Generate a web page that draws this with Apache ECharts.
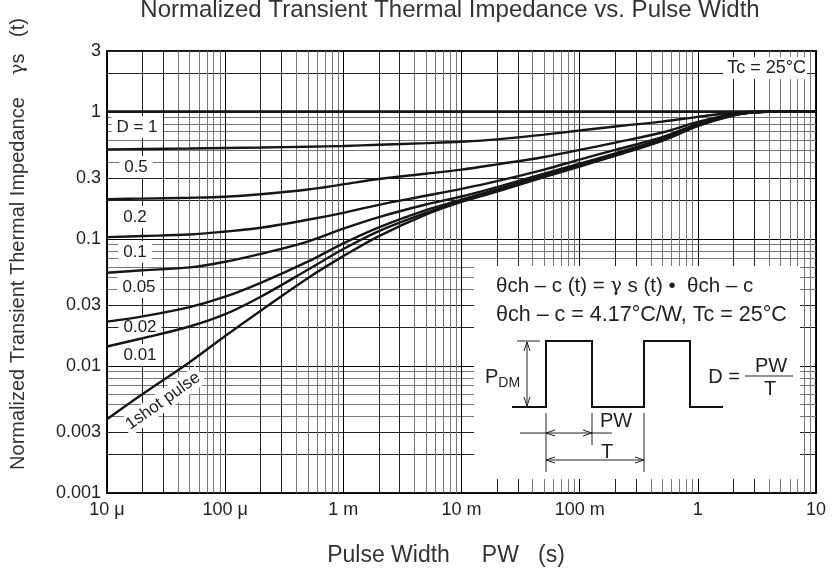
<!DOCTYPE html>
<html><head><meta charset="utf-8">
<script src="https://cdn.jsdelivr.net/npm/echarts@6/dist/echarts.min.js"></script>
<style>html,body{margin:0;padding:0;background:#fff}#c{width:834px;height:580px}</style>
</head><body><div id="c"></div>
<script>
// ---- data ----
const pulseWidth = [1e-5,2e-5,5e-5,1e-4,2e-4,5e-4,1e-3,2e-3,5e-3,1e-2,2e-2,5e-2,0.1,0.2,0.5,1,2,3,5,10];
const gammaD1    = [1,1,1,1,1,1,1,1,1,1,1,1,1,1,1,1,1,1,1,1];
const gammaD05   = [0.505,0.508,0.513,0.518,0.522,0.53,0.537,0.549,0.565,0.58,0.605,0.66,0.71,0.765,0.835,0.91,0.98,1,1,1];
const gammaD02   = [0.205,0.207,0.21,0.214,0.224,0.244,0.268,0.295,0.325,0.35,0.385,0.44,0.50,0.57,0.685,0.83,0.96,1,1,1];
const gammaD01   = [0.103,0.105,0.108,0.114,0.122,0.141,0.16,0.185,0.218,0.247,0.284,0.35,0.42,0.50,0.63,0.8,0.95,0.99,1,1];
const gammaD005  = [0.054,0.0565,0.0595,0.066,0.076,0.095,0.12,0.148,0.186,0.215,0.255,0.325,0.39,0.47,0.61,0.79,0.94,0.99,1,1];
const gammaD002  = [0.0223,0.0245,0.029,0.035,0.045,0.066,0.092,0.123,0.168,0.203,0.245,0.315,0.38,0.46,0.6,0.78,0.94,0.99,1,1];
const gammaD001  = [0.0142,0.0165,0.0204,0.0255,0.035,0.057,0.083,0.115,0.16,0.199,0.24,0.31,0.375,0.455,0.6,0.78,0.94,0.99,1,1];
const gammaSingle= [0.0038,0.006,0.0107,0.0172,0.0272,0.049,0.073,0.105,0.155,0.195,0.235,0.305,0.37,0.45,0.59,0.77,0.93,0.99,1,1];
const seriesNames = ['D = 1','0.5','0.2','0.1','0.05','0.02','0.01','1shot pulse'];

const xTickValues = [1e-5,1e-4,1e-3,1e-2,1e-1,1,10];
const xTickLabels = ['10 \u03bc','100 \u03bc','1 m','10 m','100 m','1','10'];
const yTickValues = [0.001,0.003,0.01,0.03,0.1,0.3,1,3];
const yTickLabels = ['0.001','0.003','0.01','0.03','0.1','0.3','1','3'];
const xDecades = [1e-5,1e-4,1e-3,1e-2,1e-1,1];
const yDecades = [0.001,0.01,0.1,1];
const gridMultipliers = [1,2,3,4,5,6,7,8,9];

// ---- helpers ----
function gridValues(decades, maxV){
  const out=[];
  decades.forEach(d=>gridMultipliers.forEach(m=>{const v=+(d*m).toPrecision(6); if(v<=maxV*1.0001) out.push(v);}));
  if(out[out.length-1] < maxV) out.push(maxV);
  return out;
}
function lookup(vals, labels){
  return function(v){
    for(let i=0;i<vals.length;i++){ if(Math.abs(Math.log10(v)-Math.log10(vals[i]))<1e-6) return labels[i]; }
    return '';
  };
}
const xGrid = gridValues(xDecades, 10);
const yGrid = gridValues(yDecades, 3);
const gridColors = ['#000','#222','#222','#777','#777','#777','#777','#777','#777'];
const FONT = 'Liberation Sans, Arial, sans-serif';
const GFONT = 'DejaVu Serif, serif';
const curveData = [gammaD1,gammaD05,gammaD02,gammaD01,gammaD005,gammaD002,gammaD001,gammaSingle];

const chart = echarts.init(document.getElementById('c'), null, {renderer:'canvas'});
const series = curveData.map((arr,i)=>({
  name: seriesNames[i], type:'line', showSymbol:false, smooth:0.35,
  data: pulseWidth.map((x,j)=>[x,arr[j]]),
  lineStyle:{color:'#161616', width: i===0 ? 2.8 : 2.4}, z:3, silent:true, animation:false
}));

function arrowH(x,y,dir){ return {type:'polyline', z:10, shape:{points:[[x+dir*9,y-3],[x,y],[x+dir*9,y+3]]}, style:{stroke:'#222',fill:null,lineWidth:1}}; }
function arrowV(x,y,dir){ return {type:'polyline', z:10, shape:{points:[[x-3,y+dir*9],[x,y],[x+3,y+dir*9]]}, style:{stroke:'#222',fill:null,lineWidth:1}}; }
function seg(x1,y1,x2,y2,w){ return {type:'line', z:10, shape:{x1,y1,x2,y2}, style:{stroke:'#222',lineWidth:w||1}}; }
function txt(t,x,y,size,opt){ return {type:'text', z:10, x, y, style:Object.assign({text:t, fill:'#222', font:size+'px '+FONT, align:'center', verticalAlign:'middle'}, opt||{})}; }
function lbl(t,x,y){ return {type:'text', z:2, x, y, style:{text:t, fill:'#222', font:'17px '+FONT, align:'center', verticalAlign:'middle', backgroundColor:'#fff', padding:[3,5,2,5]}}; }

const graphics = [
  // title & axis names
  txt('Normalized Transient Thermal Impedance vs. Pulse Width', 450, 10, 24, {fill:'#333'}),
  txt('Pulse Width     PW   (s)', 446, 556, 23, {fill:'#333'}),
  {type:'text', z:10, x:18, y:244, rotation:Math.PI/2, style:{
    text:'{a|Normalized Transient Thermal Impedance    }{g|\u03b3}{a|s   (t)}', fill:'#333', font:'20px '+FONT, align:'center', verticalAlign:'middle',
    rich:{a:{font:'20px '+FONT, fill:'#333'}, g:{font:'19px '+GFONT, fill:'#333'}}}},
  // Tc label
  {type:'text', z:12, x:807, y:68, style:{text:'Tc = 25\u00b0C', fill:'#222', font:'18px '+FONT, align:'right', verticalAlign:'middle', backgroundColor:'#fff', padding:[2,1,2,4]}},
  // curve labels
  lbl('D = 1',137,127), lbl('0.5',136,167), lbl('0.2',135,217), lbl('0.1',135,252),
  lbl('0.05',139,287), lbl('0.02',140,327), lbl('0.01',140,355),
  {type:'text', z:2, x:163, y:401, rotation:0.62, style:{text:'1shot pulse', fill:'#222', font:'17px '+FONT, align:'center', verticalAlign:'middle', backgroundColor:'#fff', padding:[2,3,1,3]}},
  // inset box
  {type:'rect', z:1, shape:{x:474,y:266,width:326,height:213}, style:{fill:'#fff'}},
  {type:'text', z:10, x:496, y:286, style:{
    text:'{a|\u03b8ch \u2013 c (t) = }{g|\u03b3}{a| s (t) \u2022  \u03b8ch \u2013 c}', font:'20.5px '+FONT, fill:'#222', align:'left', verticalAlign:'middle',
    rich:{a:{font:'20.5px '+FONT, fill:'#222'}, g:{font:'19px '+GFONT, fill:'#222'}}}},
  txt('\u03b8ch \u2013 c = 4.17\u00b0C/W, Tc = 25\u00b0C', 496, 315, 21.5, {align:'left'}),
  {type:'polyline', z:10, shape:{points:[[512,407],[546,407],[546,341],[592,341],[592,407],[644,407],[644,341],[690,341],[690,407],[723,407]]}, style:{stroke:'#111',fill:null,lineWidth:2}},
  seg(517,341,540,341), seg(527,342,527,406), arrowV(527,342,1), arrowV(527,406,-1),
  {type:'text', z:10, x:485, y:377, style:{text:'{p|P}{s|DM}', font:'20px '+FONT, fill:'#222', align:'left', verticalAlign:'middle', rich:{p:{font:'20px '+FONT, fill:'#222'}, s:{font:'14px '+FONT, fill:'#222', padding:[12,0,0,0]}}}},
  txt('D =', 724, 377, 20),
  txt('PW', 771, 366, 20), seg(745,376,793,376), txt('T', 770, 389, 20),
  seg(546,413,546,472), seg(592,413,592,445), seg(644,413,644,472),
  seg(520,433,612,433), arrowH(546,433,1), arrowH(592,433,-1),
  txt('PW', 616, 421, 20),
  seg(546,460,644,460), arrowH(546,460,1), arrowH(644,460,-1),
  txt('T', 607, 452, 20)
];

chart.setOption({
  animation:false,
  backgroundColor:'#fff',
  grid:{left:107, right:18, top:51, bottom:87, show:true, borderColor:'#111', borderWidth:2, backgroundColor:'transparent'},
  xAxis:{type:'log', logBase:10, min:1e-5, max:10,
    axisLine:{show:false}, axisTick:{show:false, customValues:xGrid},
    axisLabel:{customValues:xTickValues, formatter:lookup(xTickValues,xTickLabels), color:'#222', fontSize:18, fontFamily:FONT, margin:8},
    splitLine:{show:true, lineStyle:{color:gridColors, width:1}}},
  yAxis:{type:'log', logBase:10, min:0.001, max:3,
    axisLine:{show:false}, axisTick:{show:false, customValues:yGrid},
    axisLabel:{customValues:yTickValues, formatter:lookup(yTickValues,yTickLabels), color:'#222', fontSize:18, fontFamily:FONT, margin:6},
    splitLine:{show:true, lineStyle:{color:gridColors, width:1}}},
  series: series,
  graphic: graphics
});
</script></body></html>
